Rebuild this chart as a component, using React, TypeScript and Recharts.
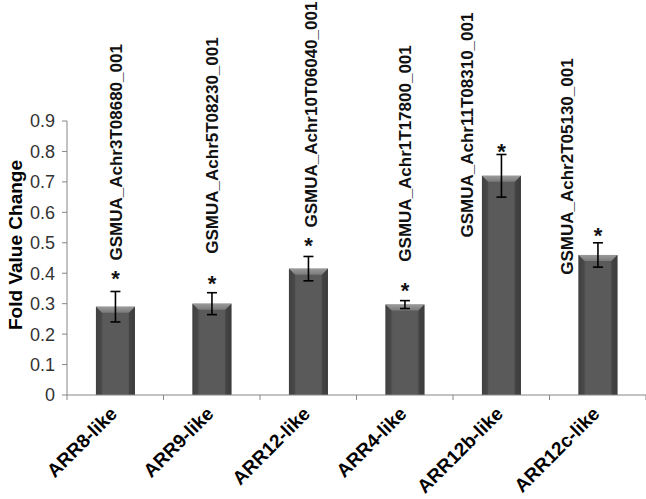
import React from 'react';
import { BarChart, Bar, XAxis, YAxis, ErrorBar, LabelList } from 'recharts';

const categories = ['ARR8-like', 'ARR9-like', 'ARR12-like', 'ARR4-like', 'ARR12b-like', 'ARR12c-like'];
const foldChange = [0.29, 0.3, 0.415, 0.297, 0.72, 0.46];
const stdErr = [0.05, 0.036, 0.04, 0.013, 0.07, 0.04];
const geneIds = [
  'GSMUA_Achr3T08680_001',
  'GSMUA_Achr5T08230_001',
  'GSMUA_Achr10T06040_001',
  'GSMUA_Achr1T17800_001',
  'GSMUA_Achr11T08310_001',
  'GSMUA_Achr2T05130_001'
];
const significance = ['*', '*', '*', '*', '*', '*'];
const yTicks = [0, 0.1, 0.2, 0.3, 0.4, 0.5, 0.6, 0.7, 0.8, 0.9];

const data = categories.map((name, i) => ({ name, value: foldChange[i], err: stdErr[i] }));

// where the text boxes sit, relative to the top of each error bar (pixels)
const starGap = [5, 2, 3, 3, -5, 0];
const geneLayout = [
  { dx: 0, gap: 31 },
  { dx: 0, gap: 39 },
  { dx: 2, gap: 29 },
  { dx: 0, gap: 39 },
  { dx: -35, gap: -83 },
  { dx: -31, gap: -32 }
];

const FONT = '"Liberation Sans", Arial, sans-serif';
const W = 646;
const H = 499;
const PLOT_LEFT = 67;

const BevelBar = (props: any) => {
  const { x, y, width, height } = props;
  if (!height || height <= 0) return null;
  const b = Math.min(6, height / 2);
  return (
    <g>
      <rect x={x} y={y} width={width} height={height} fill="url(#barBody)" />
      <polygon
        points={`${x},${y} ${x + width},${y} ${x + width - b},${y + b} ${x + b},${y + b}`}
        fill="url(#barTop)"
      />
      <polygon points={`${x},${y} ${x + b},${y + b} ${x + b},${y + height} ${x},${y + height}`} fill="#3e3e3e" opacity={0.5} />
      <polygon
        points={`${x + width},${y} ${x + width - b},${y + b} ${x + width - b},${y + height} ${x + width},${y + height}`}
        fill="#333"
        opacity={0.5}
      />
    </g>
  );
};

const Annotation = (props: any) => {
  const { x, y, width, height, index } = props;
  if (index == null) return null;
  const perUnit = height / foldChange[index];
  const errTop = y - stdErr[index] * perUnit;
  const cx = x + width / 2;
  const lay = geneLayout[index];
  const gx = cx + lay.dx;
  const gy = errTop - lay.gap;
  return (
    <g>
      <text x={cx} y={errTop - starGap[index]} textAnchor="middle" fontFamily={FONT} fontWeight="bold" fontSize={22} fill="#111">
        {significance[index]}
      </text>
      <text
        x={gx}
        y={gy}
        transform={`rotate(-90, ${gx}, ${gy})`}
        textAnchor="start"
        dy="0.36em"
        fontFamily={FONT}
        fontWeight="bold"
        fontSize={17}
        fill="#111"
      >
        {geneIds[index]}
      </text>
    </g>
  );
};

const CategoryTick = (props: any) => {
  const { x, payload, index } = props;
  const axisY = 395;
  const band = (W - PLOT_LEFT) / categories.length;
  const left = x - band / 2;
  const px = x + 3;
  const py = axisY + 20;
  return (
    <g>
      <line x1={left} y1={axisY} x2={left} y2={axisY + 5} stroke="#868686" />
      {index === categories.length - 1 && (
        <line x1={left + band} y1={axisY} x2={left + band} y2={axisY + 5} stroke="#868686" />
      )}
      <text
        x={px}
        y={py}
        transform={`rotate(-45, ${px}, ${py})`}
        textAnchor="end"
        fontFamily={FONT}
        fontWeight="bold"
        fontSize={19}
        fill="#000"
      >
        {payload.value}
      </text>
    </g>
  );
};

const YTitle = (props: any) => {
  const { viewBox } = props;
  const cy = viewBox.y + viewBox.height / 2 - 13;
  return (
    <text
      x={15}
      y={cy}
      transform={`rotate(-90, 15, ${cy})`}
      textAnchor="middle"
      dy="0.36em"
      fontFamily={FONT}
      fontWeight="bold"
      fontSize={19}
      fill="#000"
    >
      Fold Value Change
    </text>
  );
};

export default function App() {
  return (
    <div style={{ width: W, height: H, background: '#fff' }}>
      <style>{`body{margin:0}`}</style>
      <BarChart width={W} height={H} data={data} margin={{ top: 121, right: 0, left: 0, bottom: 0 }} barCategoryGap="30%">
        <defs>
          <linearGradient id="barBody" x1="0" y1="0" x2="1" y2="0">
            <stop offset="0%" stopColor="#444" />
            <stop offset="20%" stopColor="#5a5a5a" />
            <stop offset="80%" stopColor="#5a5a5a" />
            <stop offset="100%" stopColor="#444" />
          </linearGradient>
          <linearGradient id="barTop" x1="0" y1="0" x2="0" y2="1">
            <stop offset="0%" stopColor="#9a9a9a" />
            <stop offset="100%" stopColor="#7a7a7a" />
          </linearGradient>
        </defs>
        <XAxis
          dataKey="name"
          height={104}
          axisLine={{ stroke: '#868686' }}
          tickLine={false}
          tick={<CategoryTick />}
          interval={0}
        />
        <YAxis
          width={PLOT_LEFT}
          domain={[0, 0.9]}
          ticks={yTicks}
          interval={0}
          tickFormatter={(v: number) => (v === 0 ? '0' : v.toFixed(1))}
          axisLine={{ stroke: '#868686' }}
          tickLine={{ stroke: '#868686' }}
          tickSize={5}
          tickMargin={7}
          tick={{ fontFamily: FONT, fontSize: 18, fill: '#333' }}
          label={<YTitle />}
        />
        <Bar dataKey="value" shape={<BevelBar />} isAnimationActive={false}>
          <ErrorBar dataKey="err" width={5} stroke="#000" strokeWidth={1.6} isAnimationActive={false} />
          <LabelList dataKey="value" content={<Annotation />} />
        </Bar>
      </BarChart>
    </div>
  );
}
